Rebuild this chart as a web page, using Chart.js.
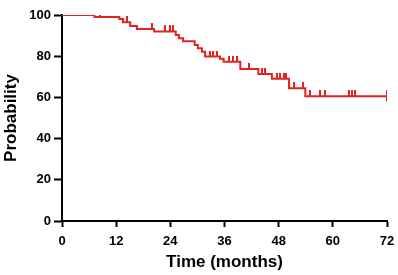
<!DOCTYPE html>
<html><head><meta charset="utf-8">
<script src="https://cdn.jsdelivr.net/npm/chart.js@4/dist/chart.umd.min.js"></script>
<style>html,body{margin:0;padding:0;background:#fff}#wrap{width:398px;height:275px;position:relative}</style>
</head><body><div id="wrap"><canvas id="c" width="398" height="275"></canvas></div>
<script>
// Kaplan-Meier step points: time (months) and survival probability (%) after each event
const eventTimes = [0, 7.2, 12.7, 13.5, 15.1, 16.6, 20.4, 25.2, 25.9, 26.8, 29.4, 30.1, 31.0, 31.7, 35.0, 35.8, 39.5, 43.5, 46.5, 50.3, 53.9, 72, 72];
const survival   = [100, 99, 98, 96.5, 94.7, 93.2, 92.0, 90.3, 88.7, 87.3, 85.4, 83.8, 82.2, 79.8, 78.8, 77.3, 73.8, 71.4, 69.0, 64.4, 60.5, 60.5, 58.0];
// Censored observations
const censorTimes = [4.5, 8.4, 14.3, 19.9, 22.8, 24.0, 24.7, 32.8, 33.5, 34.3, 36.9, 37.9, 38.7, 41.5, 44.2, 45.0, 47.6, 48.3, 49.1, 49.7, 51.3, 53.3, 55.0, 57.2, 58.2, 63.5, 64.2, 65.0, 72];
const censorSurv  = [100, 99, 96.5, 93.2, 92.0, 92.0, 92.0, 79.8, 79.8, 79.8, 77.3, 77.3, 77.3, 73.8, 71.4, 71.4, 69.0, 69.0, 69.0, 69.0, 64.4, 64.4, 60.5, 60.5, 60.5, 60.5, 60.5, 60.5, 60.5];
const xTicks = [0, 12, 24, 36, 48, 60, 72];
const yTicks = [0, 20, 40, 60, 80, 100];

const RED = 'rgb(226,36,33)';
// censor tick mark: vertical line above the point
const mark = document.createElement('canvas');
mark.width = 2; mark.height = 12;
const mctx = mark.getContext('2d');
mctx.fillStyle = RED; mctx.fillRect(0, 0, 2, 6);

const fam = 'Liberation Sans, Arial, sans-serif';
const font = {family: fam, weight: 'bold', size: 13};
new Chart(document.getElementById('c'), {
  type: 'line',
  data: {
    datasets: [
      {data: eventTimes.map((t, i) => ({x: t, y: survival[i]})), borderColor: RED, borderWidth: 2, stepped: true, pointRadius: 0, fill: false},
      {type: 'scatter', data: censorTimes.map((t, i) => ({x: t, y: censorSurv[i]})), pointStyle: mark, pointRadius: 6, showLine: false}
    ]
  },
  options: {
    responsive: false, animation: false,
    layout: {padding: {top: 15, right: 11, left: 0, bottom: 0}},
    plugins: {legend: {display: false}, tooltip: {enabled: false}},
    scales: {
      x: {
        type: 'linear', min: 0, max: 72,
        afterBuildTicks: s => { s.ticks = xTicks.map(v => ({value: v})); },
        afterFit: s => { s.height = 54; s.paddingRight = 0; s.paddingLeft = 0; },
        grid: {drawOnChartArea: false, drawTicks: true, tickLength: 6, tickColor: '#000', tickWidth: 2},
        border: {color: '#000', width: 2},
        ticks: {color: '#000', font: font, padding: 7, maxRotation: 0},
        title: {display: true, text: 'Time (months)', color: '#000', font: {family: fam, weight: 'bold', size: 17}, padding: {top: 0, bottom: 2}}
      },
      y: {
        min: 0, max: 100,
        afterBuildTicks: s => { s.ticks = yTicks.map(v => ({value: v})); },
        afterFit: s => { s.width = 62; },
        grid: {drawOnChartArea: false, drawTicks: true, tickLength: 8, tickColor: '#000', tickWidth: 2},
        border: {color: '#000', width: 2},
        ticks: {color: '#000', font: font, padding: 3},
        title: {display: true, text: 'Probability', color: '#000', font: {family: fam, weight: 'bold', size: 17}, padding: {top: 1, bottom: 0}}
      }
    }
  }
});
</script></body></html>
